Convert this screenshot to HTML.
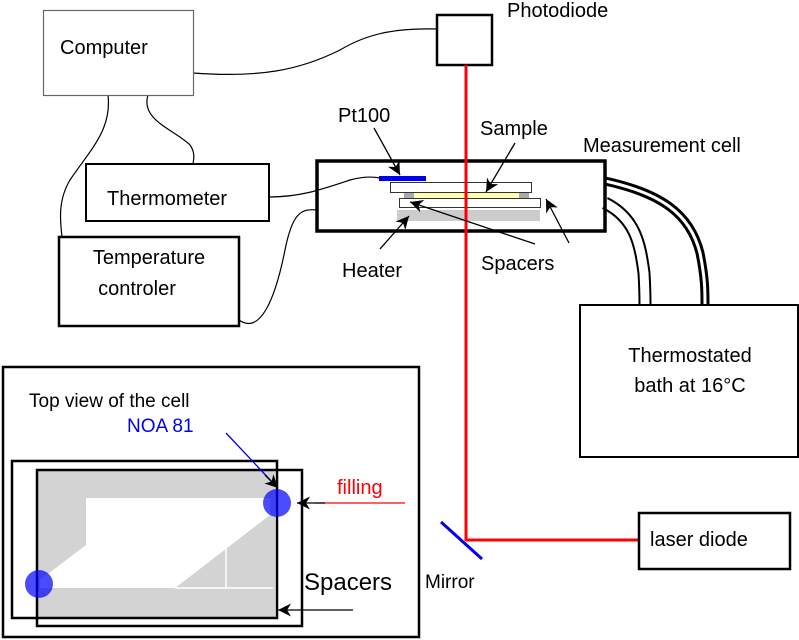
<!DOCTYPE html>
<html><head><style>body{margin:0;background:#fff}svg{display:block}text{font-family:"Liberation Sans",Arial,sans-serif;fill:#000}</style></head><body>
<svg width="799" height="640" viewBox="0 0 799 640" xmlns="http://www.w3.org/2000/svg">
<defs><marker id="a" viewBox="0 0 10 10" refX="10" refY="5" markerWidth="13" markerHeight="13" markerUnits="userSpaceOnUse" orient="auto"><path d="M0,0 L10,5 L0,10 L3,5z" fill="#000"/></marker></defs>
<g fill="none" stroke="#000" stroke-width="1.2">
<path d="M193,73 C260,78 300,70 340,50 C370,32 400,28 437,29"/>
<path d="M108,95 C112,130 90,150 70,180 C58,200 60,220 62,237"/>
<path d="M148,95 C140,120 175,130 190,145 C195,152 194,158 193,164"/>
<path d="M269,197 C300,197 320,190 350,180 C365,176 375,177 380,178"/>
<path d="M239,320 C260,335 275,300 285,250 C292,215 300,208 317,210"/>
</g>
<rect x="43.5" y="10.5" width="150" height="85" fill="none" stroke="#666" stroke-width="1.2"/>
<text x="60" y="54" font-size="20">Computer</text>
<rect x="86" y="164" width="183" height="57" fill="none" stroke="#000" stroke-width="2"/>
<text x="107" y="205" font-size="20">Thermometer</text>
<rect x="59" y="237" width="180" height="89" fill="none" stroke="#000" stroke-width="2.5"/>
<text x="149" y="264" font-size="20" text-anchor="middle">Temperature</text>
<text x="137" y="295" font-size="20" text-anchor="middle">controler</text>
<rect x="437" y="15" width="55" height="50" fill="none" stroke="#000" stroke-width="2.5"/>
<text x="507" y="17" font-size="20">Photodiode</text>
<g fill="none" stroke="#000">
<path d="M605,181 C660,193 690,213 700,253 C705,278 705,290 705,305" stroke-width="9"/>
<path d="M605,181 C660,193 690,213 700,253 C705,278 705,290 705,305" stroke="#fff" stroke-width="3"/>
<path d="M605,203 C635,218 640,243 644,273 C645,290 645,300 645,305" stroke-width="13"/>
<path d="M605,203 C635,218 640,243 644,273 C645,290 645,300 645,305" stroke="#fff" stroke-width="9"/>
</g>
<rect x="317" y="161" width="288" height="70" fill="none" stroke="#000" stroke-width="3.5"/>
<rect x="404" y="193" width="10" height="5" fill="#aaa"/><rect x="519" y="193" width="10" height="5" fill="#aaa"/>
<rect x="414" y="193" width="105" height="5" fill="#ffffb0"/>
<rect x="390.5" y="182.5" width="141" height="10" fill="#fff" stroke="#333"/>
<rect x="379" y="176" width="47" height="5" fill="#0000ee"/>
<rect x="399.5" y="198.5" width="141" height="9" fill="#fff" stroke="#333"/>
<rect x="397" y="210" width="143" height="11" fill="#ccc"/>
<line x1="466" y1="65" x2="466" y2="541" stroke="#f00" stroke-width="3"/>
<line x1="466" y1="540" x2="639" y2="540" stroke="#f00" stroke-width="3"/>
<line x1="441" y1="522" x2="482" y2="559" stroke="#00e" stroke-width="3"/>
<g stroke="#000" stroke-width="1.3" marker-end="url(#a)">
<line x1="374" y1="128" x2="400" y2="175"/>
<line x1="515" y1="143" x2="486" y2="192"/>
<line x1="535" y1="244" x2="410" y2="202"/>
<line x1="569" y1="243" x2="546" y2="199"/>
<line x1="380" y1="249" x2="409" y2="216"/>
</g>
<text x="338" y="122" font-size="20">Pt100</text>
<text x="480" y="135" font-size="20">Sample</text>
<text x="583" y="152" font-size="20">Measurement cell</text>
<text x="342" y="277" font-size="20">Heater</text>
<text x="481" y="270" font-size="20">Spacers</text>
<rect x="580" y="305" width="218" height="152" fill="none" stroke="#000" stroke-width="2"/>
<text x="690" y="362" font-size="20" text-anchor="middle">Thermostated</text>
<text x="690" y="392" font-size="20" text-anchor="middle">bath at 16°C</text>
<rect x="639" y="513" width="151" height="56" fill="none" stroke="#000" stroke-width="2.5"/>
<text x="650" y="546" font-size="20">laser diode</text>
<text x="425" y="588" font-size="19">Mirror</text>
<rect x="3" y="367" width="416" height="270" fill="none" stroke="#000" stroke-width="2.5"/>
<text x="29" y="407" font-size="19">Top view of the cell</text>
<text x="127" y="432" font-size="19" style="fill:#0000ee">NOA 81</text>
<rect x="38" y="471" width="237" height="146" fill="#d3d3d3"/>
<polygon points="86,498 270,498 270,515 175,588 40,588 40,580 86,545" fill="#fff"/>
<line x1="226" y1="545" x2="226" y2="588" stroke="#fff" stroke-width="1.5"/>
<line x1="175" y1="588" x2="273" y2="588" stroke="#fff" stroke-width="1.5"/>
<rect x="12" y="461" width="265" height="157" fill="none" stroke="#000" stroke-width="2.5"/>
<rect x="37" y="470" width="265" height="156" fill="none" stroke="#000" stroke-width="2.5"/>
<circle cx="277" cy="503" r="14" fill="#0000ff" fill-opacity="0.7"/>
<circle cx="39" cy="584" r="14" fill="#0000ff" fill-opacity="0.7"/>
<line x1="226" y1="433" x2="273" y2="483" stroke="#00e" stroke-width="1.3"/>
<line x1="265" y1="475" x2="278" y2="488" stroke="#000" stroke-width="1.3" marker-end="url(#a)"/>
<line x1="405" y1="503" x2="315" y2="503" stroke="#f00" stroke-width="1.3"/>
<line x1="325" y1="503" x2="297" y2="503" stroke="#000" stroke-width="1.3" marker-end="url(#a)"/>
<text x="337" y="494" font-size="20" style="fill:#f00">filling</text>
<text x="304" y="590" font-size="24">Spacers</text>
<line x1="353" y1="610" x2="278" y2="610" stroke="#000" stroke-width="1.3" marker-end="url(#a)"/>
</svg>
</body></html>
